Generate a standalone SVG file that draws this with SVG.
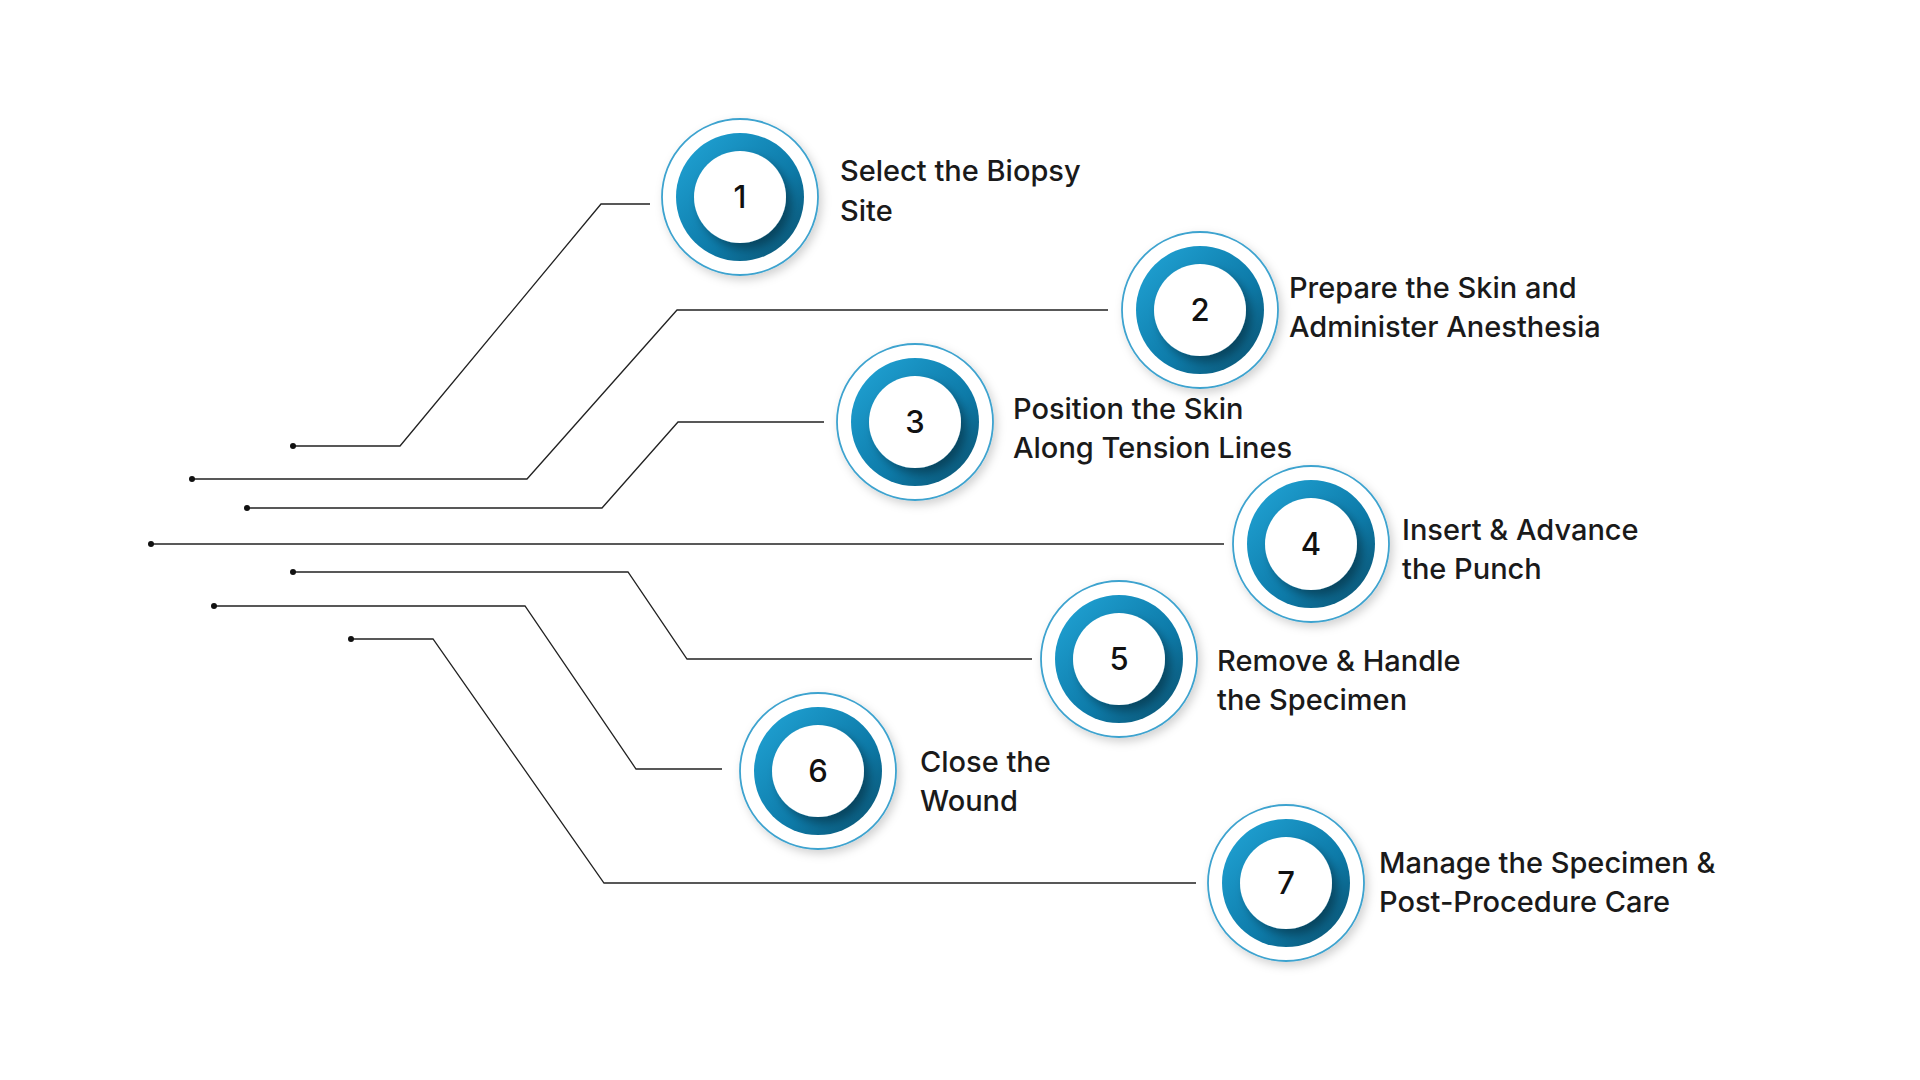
<svg xmlns="http://www.w3.org/2000/svg" width="1920" height="1080" viewBox="0 0 1920 1080">
<defs>
<linearGradient id="tg" x1="0" y1="0" x2="1" y2="1"><stop offset="0" stop-color="#22a6d8"/><stop offset="0.6" stop-color="#0d7aa8"/><stop offset="1" stop-color="#0a4e6b"/></linearGradient>
<filter id="sh" x="-30%" y="-30%" width="160%" height="160%"><feDropShadow dx="5" dy="6" stdDeviation="5" flood-color="#000" flood-opacity="0.35"/></filter>
<filter id="sh2" x="-30%" y="-30%" width="160%" height="160%"><feDropShadow dx="3" dy="4" stdDeviation="5" flood-color="#000" flood-opacity="0.18"/></filter>
<g id="badge">
<circle r="78" fill="#fff" stroke="#3ea3cf" stroke-width="1.8" filter="url(#sh2)"/>
<circle r="64" fill="url(#tg)"/>
<circle r="46" fill="#fff" filter="url(#sh)"/>
</g>
</defs>
<style>
.c{fill:none;stroke:#222;stroke-width:1.3}
.t{font-family:Inter,"Noto Sans",sans-serif;font-size:29px;font-weight:500;fill:#1a1a1a}
.n{font-family:Inter,"Noto Sans",sans-serif;font-size:31px;font-weight:500;fill:#111;text-anchor:middle}
</style>
<rect width="1920" height="1080" fill="#fff"/>
<g id="connectors">
<polyline class="c" points="293,446 400,446 601,204 650,204"/>
<polyline class="c" points="192,479 527,479 677,310 1108,310"/>
<polyline class="c" points="247,508 602,508 678,422 824,422"/>
<polyline class="c" points="151,544 1224,544"/>
<polyline class="c" points="293,572 628,572 687,659 1032,659"/>
<polyline class="c" points="214,606 525,606 636,769 722,769"/>
<polyline class="c" points="351,639 433,639 604,883 1196,883"/>
<g fill="#111"><circle cx="293" cy="446" r="3"/><circle cx="192" cy="479" r="3"/><circle cx="247" cy="508" r="3"/><circle cx="151" cy="544" r="3"/><circle cx="293" cy="572" r="3"/><circle cx="214" cy="606" r="3"/><circle cx="351" cy="639" r="3"/></g>
</g>
<g id="step1"><use href="#badge" x="740" y="197"/><text class="n" x="740" y="208">1</text><text class="t" x="840" y="181">Select the Biopsy</text><text class="t" x="840" y="221">Site</text></g>
<g id="step2"><use href="#badge" x="1200" y="310"/><text class="n" x="1200" y="321">2</text><text class="t" x="1289" y="298">Prepare the Skin and</text><text class="t" x="1289" y="337">Administer Anesthesia</text></g>
<g id="step3"><use href="#badge" x="915" y="422"/><text class="n" x="915" y="433">3</text><text class="t" x="1013" y="419">Position the Skin</text><text class="t" x="1013" y="458">Along Tension Lines</text></g>
<g id="step4"><use href="#badge" x="1311" y="544"/><text class="n" x="1311" y="555">4</text><text class="t" x="1402" y="540">Insert &amp; Advance</text><text class="t" x="1402" y="579">the Punch</text></g>
<g id="step5"><use href="#badge" x="1119" y="659"/><text class="n" x="1119" y="670">5</text><text class="t" x="1217" y="671">Remove &amp; Handle</text><text class="t" x="1217" y="710">the Specimen</text></g>
<g id="step6"><use href="#badge" x="818" y="771"/><text class="n" x="818" y="782">6</text><text class="t" x="920" y="772">Close the</text><text class="t" x="920" y="811">Wound</text></g>
<g id="step7"><use href="#badge" x="1286" y="883"/><text class="n" x="1286" y="894">7</text><text class="t" x="1379" y="873">Manage the Specimen &amp;</text><text class="t" x="1379" y="912">Post-Procedure Care</text></g>
</svg>
